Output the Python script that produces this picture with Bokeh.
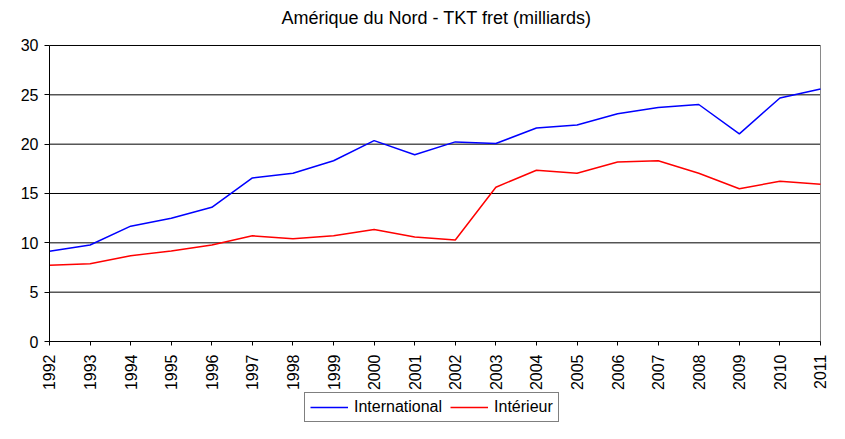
import math
from bokeh.plotting import figure
from bokeh.models import Range1d, Legend, LegendItem, FixedTicker, Label
from bokeh.embed import file_html
from bokeh.resources import INLINE

years = [1992, 1993, 1994, 1995, 1996, 1997, 1998, 1999, 2000, 2001,
         2002, 2003, 2004, 2005, 2006, 2007, 2008, 2009, 2010, 2011]
international = [9.15, 9.78, 11.69, 12.49, 13.60, 16.58, 17.05, 18.32, 20.36, 18.92,
                 20.23, 20.06, 21.64, 21.94, 23.08, 23.72, 24.02, 21.04, 24.68, 25.59]
interieur = [7.74, 7.87, 8.70, 9.18, 9.78, 10.71, 10.41, 10.71, 11.36, 10.58,
             10.28, 15.64, 17.35, 17.05, 18.19, 18.32, 17.05, 15.48, 16.24, 15.94]
y_ticks = [0, 5, 10, 15, 20, 25, 30]
title_text = "Amérique du Nord - TKT fret (milliards)"
series_names = ["International", "Intérieur"]

FONT = "Liberation Sans"

# The frame covers the whole canvas; both axes are pinned at fixed data
# locations so their labels, the title and the legend stay visible.
p = figure(width=829, height=423, output_backend="svg", toolbar_location=None,
           x_range=Range1d(1990.7925, 2011.2218), y_range=Range1d(-8.31, 34.56),
           min_border_left=0, min_border_right=0, min_border_top=0, min_border_bottom=0)

p.background_fill_color = "white"
p.border_fill_color = "white"
p.outline_line_color = None
p.xgrid.visible = False
p.ygrid.visible = False

# horizontal grid lines across the data area
p.segment(x0=[years[0]] * len(y_ticks), y0=y_ticks, x1=[years[-1]] * len(y_ticks), y1=y_ticks,
          line_color="black", line_width=1)
# grey right border of the data area
p.segment(x0=[years[-1]], y0=[y_ticks[0]], x1=[years[-1]], y1=[y_ticks[-1]],
          line_color="#888888", line_width=1)

p.xaxis.ticker = FixedTicker(ticks=years)
p.xaxis.fixed_location = y_ticks[0]
p.xaxis.bounds = (years[0], years[-1])
p.yaxis.ticker = FixedTicker(ticks=y_ticks)
p.yaxis.fixed_location = years[0]
p.yaxis.bounds = (y_ticks[0], y_ticks[-1])
p.xaxis.major_label_orientation = math.pi / 2
for ax in (p.xaxis, p.yaxis):
    ax.axis_line_color = "black"
    ax.major_tick_line_color = "black"
    ax.minor_tick_line_color = None
    ax.major_tick_in = 0
    ax.major_label_text_font = FONT
    ax.major_label_text_font_size = "16px"
    ax.major_label_text_color = "black"
p.xaxis.major_tick_out = 4
p.yaxis.major_tick_out = 5
p.xaxis.major_label_standoff = 9
p.yaxis.major_label_standoff = 6

r1 = p.line(years, international, line_color="#0000FF", line_width=1.5)
r2 = p.line(years, interieur, line_color="#FF0000", line_width=1.5)

title = Label(x=436, y=406, x_units="screen", y_units="screen", text=title_text,
              text_align="center", text_baseline="alphabetic",
              text_font=FONT, text_font_size="18px", text_color="black")
p.add_layout(title)

legend = Legend(items=[LegendItem(label=series_names[0], renderers=[r1]),
                       LegendItem(label=series_names[1], renderers=[r2])],
                orientation="horizontal", location=(304, 1),
                glyph_width=38, glyph_height=16, label_height=16,
                label_standoff=6, spacing=8, padding=5, margin=0,
                label_text_font=FONT, label_text_font_size="16px", label_text_color="black",
                border_line_color="black", border_line_width=1,
                background_fill_color="white")
p.add_layout(legend, "center")

open("out.html", "w").write(file_html(p, INLINE))
